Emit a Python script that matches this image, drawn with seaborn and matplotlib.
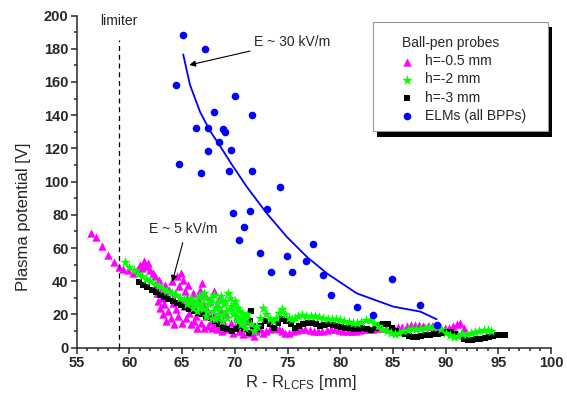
import numpy as np
import pandas as pd
import matplotlib
matplotlib.use("Agg")
import matplotlib.pyplot as plt
import matplotlib.ticker as ticker
from matplotlib.patches import Rectangle
import seaborn as sns

# Ball-pen probe h=-0.5 mm (magenta triangles)
r_h05 = [56.4, 56.8, 57.4, 58.0, 58.5, 59.0, 59.4, 59.9, 60.3, 60.7, 61.0, 61.2, 61.4, 61.6, 61.8,
         62.0, 62.2,
         62.4, 62.5, 62.6, 62.7, 62.8, 62.9, 63.0, 63.1, 63.2, 63.3, 63.4, 63.5, 63.6, 63.7, 63.8,
         63.9, 64.0, 64.1, 64.2, 64.3, 64.4, 64.5, 64.6, 64.7, 64.8, 64.9, 65.0, 65.1, 65.2, 65.3,
         65.4, 65.5, 65.6, 65.7, 65.8, 65.9, 66.0, 66.1, 66.2, 66.3, 66.4, 66.5, 66.6, 66.7, 66.8,
         66.9, 67.0, 67.1, 67.2, 67.3, 67.4, 67.5, 67.6, 67.7, 67.8, 67.9, 68.0, 68.1, 68.2, 68.3,
         68.4, 68.5, 68.6, 68.7, 68.8, 68.9, 69.0, 69.2, 69.4, 69.6, 69.8, 70.0, 70.2, 70.4, 70.6,
         70.8, 71.0, 71.2, 71.4, 71.6, 71.8, 72.0,
         72.4, 72.7, 73.0, 73.3, 73.6, 73.9, 74.2, 74.5, 74.8, 75.1, 75.5, 75.9, 76.3, 76.7, 77.1,
         77.5, 77.9, 78.3, 78.7, 79.1, 79.5, 79.9, 80.3, 80.7, 81.1, 81.5, 81.9, 82.3, 82.7, 83.1,
         83.5, 83.9, 84.3, 84.7, 85.1, 85.5, 85.9, 86.3, 86.7, 87.1, 87.5, 87.9, 88.3, 88.7, 89.1,
         89.5, 89.9, 90.3, 90.7, 91.1, 91.4, 91.7]
v_h05 = [69, 66.5, 61.5, 56, 51.5, 48.5, 47.5, 46.5, 45, 47, 50, 48, 52, 49, 51,
         47, 45,
         43, 38, 33, 28, 41, 24, 35, 30, 20, 26, 38, 16, 31, 22, 35,
         18, 40, 27, 14, 33, 23, 43, 19, 37, 29, 45, 15, 41, 25, 34,
         18, 30, 38, 21, 14, 27, 33, 16, 24, 19, 12, 29, 22, 35, 15,
         39, 26, 12, 32, 19, 23, 13, 28, 16, 12, 21, 34, 14, 25, 11,
         18, 29, 13, 22, 10, 16, 12, 20, 11, 15, 9, 13, 18, 10, 14,
         8, 12, 16, 9, 11, 7, 10,
         11, 9, 10, 11, 12, 12, 11, 10, 9, 9, 10, 10.5, 11, 11, 10.5,
         10, 10, 10, 10.5, 11, 11, 10.5, 10, 10, 10, 10, 10.5, 11, 11, 11.5,
         12, 12, 12, 12, 12, 12.5, 12.5, 13, 13.5, 13.5, 13.5, 13, 13, 13, 13,
         12.5, 12, 12, 13, 14.5, 15, 12]

# Ball-pen probe h=-2 mm (green stars)
r_h2 = [59.6, 60.0, 60.4, 60.8, 61.2, 61.6, 62.0, 62.4, 62.8, 63.2, 63.6, 64.0, 64.4, 64.8, 65.2,
        65.5, 65.8, 66.0, 66.2, 66.4, 66.6, 66.8, 67.0, 67.1, 67.3, 67.5, 67.7, 67.9, 68.1, 68.3,
        68.5, 68.7, 68.9, 69.1, 69.3, 69.5, 69.7, 69.9, 70.1, 70.3, 70.5, 70.7, 70.9, 71.1,
        65.6, 66.0, 66.4, 66.8, 67.2, 67.4, 67.6, 67.8, 68.0, 68.2, 68.4, 68.6, 68.8, 69.0, 69.2,
        69.4, 69.6, 69.8, 70.0, 70.2, 70.4, 70.6, 70.8, 71.0, 71.2, 71.5, 71.8, 72.1, 72.4, 72.7,
        73.0, 73.3, 73.6, 73.9, 74.2, 74.5, 74.8, 75.1, 75.4, 75.7, 76.0, 76.4, 76.8, 77.2, 77.6,
        78.0, 78.4, 78.8, 79.2, 79.6, 80.0, 80.4, 80.8, 81.2, 81.6, 82.0, 82.4, 82.8, 83.2, 83.6,
        84.0, 84.4, 84.8, 85.2, 85.6, 86.0, 86.4, 86.8, 87.2, 87.6, 88.0, 88.4, 88.8, 89.2, 89.6,
        90.0, 90.4, 90.8, 91.2, 91.6, 92.0, 92.4, 92.8, 93.2, 93.6, 94.0, 94.3]
v_h2 = [51.5, 48.5, 46.5, 44.5, 43, 41.5, 40, 38.5, 37, 35.5, 34, 33, 31.5, 30, 29,
        26, 30, 24, 28, 22, 31, 27, 23, 33, 19, 26, 30, 22, 17, 27,
        24, 31, 20, 28, 18, 30, 23, 26, 19, 24, 17, 21, 15, 18,
        28, 27, 26, 25, 30, 22, 28, 18, 32, 24, 20, 28, 16, 26, 22,
        33, 25, 20, 28, 16, 22, 14, 18, 12, 20, 14, 10, 13, 18, 24,
        20, 17, 16, 18, 21, 23, 20, 18, 17, 18, 19, 19.5, 19, 19, 19,
        18.5, 18, 17.5, 17, 17, 16.5, 16, 15.5, 15, 15, 15.5, 16.5, 16.5, 15, 13,
        11.5, 10, 9, 8.5, 9, 10, 10.5, 11, 11, 11.5, 12, 12.5, 12.5, 12.5, 11,
        9, 7.5, 6.5, 7, 8, 8.5, 9, 9.5, 10, 10.5, 10.5, 10]

# Ball-pen probe h=-3 mm (black squares)
r_h3 = [60.9, 61.3, 61.7, 62.1, 62.5, 62.9, 63.3, 63.7, 64.1, 64.5, 64.9, 65.3, 65.7, 66.1, 66.5,
        66.9, 67.3, 67.7, 68.1, 68.5, 68.9, 69.3, 69.7, 70.1, 70.5, 70.9, 71.3, 71.4, 71.5, 71.7,
        72.1, 72.5, 72.9, 73.3, 73.7, 74.1, 74.5, 74.9, 75.3, 75.7, 76.1, 76.5, 76.9, 77.3, 77.7,
        78.1, 78.5, 78.9, 79.3, 79.7, 80.1, 80.5, 80.9, 81.3, 81.7, 82.1, 82.5, 82.9, 83.3, 83.7,
        84.1, 84.5, 84.9, 85.3, 85.7, 86.1, 86.5, 86.9, 87.3, 87.7, 88.1, 88.5, 88.9, 89.3, 89.7,
        90.1, 90.5, 90.9, 91.3, 91.7, 92.1, 92.5, 92.9, 93.3, 93.7, 94.1, 94.5, 94.9, 95.3, 95.6]
v_h3 = [39.5, 38, 36.5, 35, 33.5, 32, 30.5, 29.5, 28, 27, 25.5, 24.5, 23, 22, 21,
        20, 19, 18, 16, 14, 12, 11, 10, 11, 13, 11, 9, 16, 22, 13,
        11, 13, 16, 14, 12, 15, 17, 16, 14, 12, 13, 14, 15, 15, 14,
        13, 13.5, 14, 13.5, 13, 12.5, 12, 12, 11.5, 11.5, 12, 11, 10.5, 12, 13.5,
        14, 14, 12, 10, 9, 8, 7, 6.5, 6.5, 7, 7.5, 7.5, 8, 8, 9,
        9.5, 9.5, 8.5, 7, 5.5, 4.5, 4.5, 5, 5.5, 6, 6.5, 7, 7.5, 7.5, 7.5]

# ELM peaks, all BPPs (blue circles)
r_elm = [65.1, 67.2, 64.4, 70.0, 68.0, 71.6, 66.35, 67.5, 68.9, 69.1, 68.5, 67.5, 69.6, 64.7,
         66.8, 69.45, 71.6, 74.3, 69.8, 71.4, 73.05, 70.9, 70.4, 72.4, 77.45, 74.95, 76.75, 73.4,
         75.4, 78.4, 79.1, 81.6, 84.9, 87.6, 83.1, 89.15]
v_elm = [188, 180, 158, 151.5, 141.7, 140.3, 132.5, 132.5, 131.5, 129.7, 123.7, 118.6, 118.8, 110.4,
         105.4, 106.2, 106.6, 96.6, 81.3, 82.3, 83.7, 72.8, 64.8, 57.0, 62.2, 55.4, 52.2, 45.8,
         45.8, 43.8, 32.0, 24.6, 41.3, 25.7, 19.4, 13.5]

# decay curve through the ELM points
r_fit = [65.1, 65.75, 66.7, 67.65, 68.43, 69.64, 71.13, 73.03, 74.92, 76.82, 78.72, 81.57, 85.04, 87.6, 89.15]
v_fit = [176.6, 158.2, 142, 130.5, 123.1, 111, 96.9, 80.9, 66.8, 54.8, 44.8, 32.7, 24.7, 21.7, 17.1]

limiter_r = 59.0
limiter_top = 185

sns.set_style("ticks")
plt.rcParams["font.family"] = ["Liberation Sans", "DejaVu Sans"]
plt.rcParams["mathtext.fontset"] = "custom"
plt.rcParams["mathtext.rm"] = "Liberation Sans"
plt.rcParams["mathtext.it"] = "Liberation Sans:italic"

W, H = 567, 409
fig = plt.figure(figsize=(W / 100, H / 100), dpi=100)
ax = fig.add_axes([0.1353, 0.150, 0.8365, 0.812])

sns.scatterplot(x=r_h05, y=v_h05, marker="^", color="#ff00ff", s=36, linewidth=0,
                label="h=-0.5 mm", ax=ax, zorder=2)
sns.scatterplot(x=r_h3, y=v_h3, marker="s", color="black", s=22, linewidth=0,
                label="h=-3 mm", ax=ax, zorder=3)
sns.scatterplot(x=r_h2, y=v_h2, marker="*", color="#00ff00", s=64, linewidth=0,
                label="h=-2 mm", ax=ax, zorder=4)
sns.scatterplot(x=r_elm, y=v_elm, marker="o", color="#0000ff", s=30, linewidth=0,
                label="ELMs (all BPPs)", ax=ax, zorder=5)
sns.lineplot(x=r_fit, y=v_fit, color="#0000ff", lw=1.3, sort=False, ax=ax, zorder=5)

ax.vlines(limiter_r, 0, limiter_top, colors="black", linestyles=(0, (4, 3)), lw=0.9)
ax.text(57.2, 197, "limiter", fontsize=10, va="center", ha="left")

arrow = dict(arrowstyle="-|>", color="black", lw=0.8, mutation_scale=9, shrinkA=0, shrinkB=0)
ax.annotate("", xy=(65.68, 170.2), xytext=(71.44, 178.6), arrowprops=arrow)
ax.text(71.85, 184.2, "E ~ 30 kV/m", fontsize=10, va="center", ha="left")
ax.annotate("", xy=(64.07, 39.7), xytext=(65.06, 63.2), arrowprops=arrow)
ax.text(68.34, 71.3, "E ~ 5 kV/m", fontsize=10, va="center", ha="right")

ax.set_xlim(55, 100)
ax.set_ylim(0, 200)
ax.xaxis.set_major_locator(ticker.MultipleLocator(5))
ax.xaxis.set_minor_locator(ticker.MultipleLocator(1))
ax.yaxis.set_major_locator(ticker.MultipleLocator(20))
ax.yaxis.set_minor_locator(ticker.MultipleLocator(10))
ax.tick_params(which="major", direction="out", length=4, width=1.1, labelsize=10.5, pad=2)
ax.tick_params(which="minor", direction="out", length=2.5, width=1.1)
for lab in ax.get_xticklabels() + ax.get_yticklabels():
    lab.set_fontweight("bold")
sns.despine(ax=ax)
for side in ["left", "bottom"]:
    ax.spines[side].set_linewidth(1.1)

ax.set_xlabel(r"R - R$_{\mathrm{LCFS}}$ [mm]", fontsize=12, va="center")
ax.set_ylabel("Plasma potential [V]", fontsize=12, va="center")
ax.xaxis.set_label_coords(0.473, -0.106)
ax.yaxis.set_label_coords(-0.1126, 0.394)


def px_rect(x0, y0, x1, y1, **kw):
    # rectangle given in pixels from the top-left corner of the image
    return Rectangle((x0 / W, 1 - y1 / H), (x1 - x0) / W, (y1 - y0) / H,
                     transform=fig.transFigure, **kw)


# legend box (373..548 x 22..131 px) with its solid black shadow strips
fig.add_artist(px_rect(373, 22, 548, 131, facecolor="white", edgecolor="#999999", lw=0.8, zorder=9))
fig.add_artist(px_rect(377, 131.5, 552, 136.5, facecolor="black", edgecolor="none", zorder=11))
fig.add_artist(px_rect(548.5, 27, 552, 136.5, facecolor="black", edgecolor="none", zorder=11))

handles, labels = ax.get_legend_handles_labels()
ax.get_legend().remove()
order = [labels.index(l) for l in ["h=-0.5 mm", "h=-2 mm", "h=-3 mm", "ELMs (all BPPs)"]]
leg = fig.legend([handles[i] for i in order], [labels[i] for i in order],
                 title="Ball-pen probes", alignment="left", fontsize=10, title_fontsize=10,
                 loc="upper left", bbox_to_anchor=(402 / W, 1 - 36 / H), bbox_transform=fig.transFigure,
                 frameon=False, borderpad=0, labelspacing=0.30, handletextpad=0.93,
                 handlelength=0.72, borderaxespad=0)
leg.set_zorder(10)

fig.savefig("out.png", dpi=100)
